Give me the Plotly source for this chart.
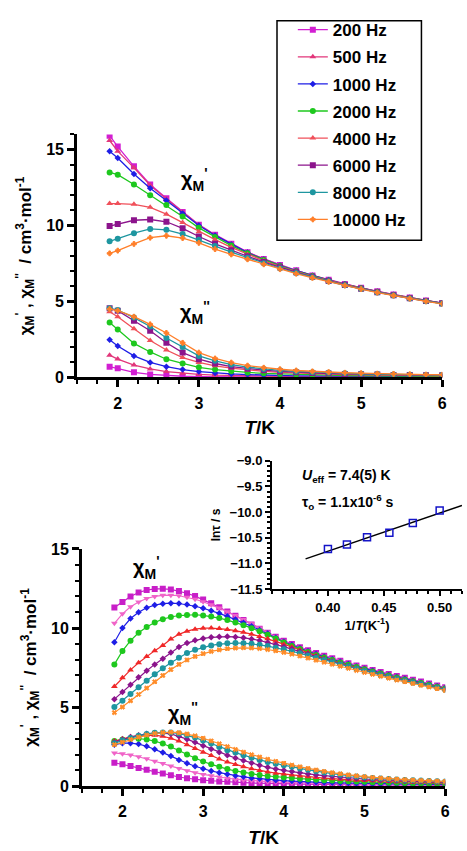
import plotly.graph_objects as go

# ---------------- data ----------------
freq_labels = ["200 Hz", "500 Hz", "1000 Hz", "2000 Hz", "4000 Hz", "6000 Hz", "8000 Hz", "10000 Hz"]

# top panel temperatures
t_top = [1.9, 2.0, 2.2, 2.4, 2.6, 2.8, 3.0, 3.2, 3.4, 3.6, 3.8, 4.0, 4.2, 4.4, 4.6, 4.8, 5.0, 5.2, 5.4, 5.6, 5.8, 6.0]

top_chi1_200 = [15.92, 15.2, 13.9, 12.7, 11.8, 10.9, 10.06, 9.4, 8.8, 8.25, 7.8, 7.4, 7.05, 6.72, 6.43, 6.15, 5.9, 5.67, 5.46, 5.26, 5.07, 4.9]
top_chi1_500 = [15.6, 14.9, 13.8, 12.65, 11.75, 10.88, 10.04, 9.38, 8.78, 8.24, 7.79, 7.39, 7.04, 6.71, 6.42, 6.14, 5.89, 5.66, 5.45, 5.25, 5.06, 4.89]
top_chi1_1000 = [14.9, 14.45, 13.4, 12.45, 11.65, 10.8, 10.0, 9.35, 8.76, 8.22, 7.77, 7.37, 7.03, 6.7, 6.41, 6.13, 5.88, 5.65, 5.44, 5.24, 5.05, 4.89]
top_chi1_2000 = [13.5, 13.35, 12.7, 12.0, 11.35, 10.6, 9.85, 9.25, 8.68, 8.17, 7.73, 7.34, 7.0, 6.68, 6.39, 6.12, 5.87, 5.64, 5.43, 5.23, 5.04, 4.88]
top_chi1_4000 = [11.45, 11.45, 11.4, 11.2, 10.75, 10.2, 9.6, 9.07, 8.57, 8.1, 7.68, 7.3, 6.97, 6.66, 6.37, 6.1, 5.86, 5.63, 5.42, 5.22, 5.04, 4.88]
top_chi1_6000 = [9.97, 10.1, 10.35, 10.4, 10.25, 9.82, 9.28, 8.8, 8.38, 7.98, 7.6, 7.25, 6.93, 6.63, 6.35, 6.08, 5.84, 5.61, 5.41, 5.21, 5.03, 4.87]
top_chi1_8000 = [8.96, 9.13, 9.5, 9.78, 9.72, 9.44, 9.07, 8.65, 8.25, 7.88, 7.52, 7.19, 6.88, 6.6, 6.33, 6.07, 5.83, 5.6, 5.4, 5.2, 5.02, 4.86]
top_chi1_10000 = [8.17, 8.35, 8.79, 9.2, 9.33, 9.18, 8.86, 8.45, 8.1, 7.78, 7.45, 7.13, 6.83, 6.56, 6.3, 6.05, 5.82, 5.59, 5.39, 5.19, 5.01, 4.85]

top_chi2_200 = [0.71, 0.6, 0.34, 0.2, 0.12, 0.08, 0.06, 0.05, 0.04, 0.04, 0.03, 0.03, 0.03, 0.03, 0.02, 0.02, 0.02, 0.02, 0.02, 0.02, 0.02, 0.02]
top_chi2_500 = [1.47, 1.21, 0.82, 0.56, 0.39, 0.28, 0.2, 0.15, 0.12, 0.1, 0.08, 0.07, 0.06, 0.05, 0.05, 0.04, 0.04, 0.04, 0.03, 0.03, 0.03, 0.03]
top_chi2_1000 = [2.48, 2.07, 1.42, 0.99, 0.71, 0.52, 0.39, 0.3, 0.23, 0.19, 0.15, 0.13, 0.11, 0.1, 0.09, 0.08, 0.07, 0.06, 0.06, 0.05, 0.05, 0.05]
top_chi2_2000 = [3.62, 3.15, 2.24, 1.68, 1.2, 0.92, 0.67, 0.52, 0.41, 0.33, 0.27, 0.23, 0.2, 0.17, 0.15, 0.13, 0.12, 0.11, 0.1, 0.09, 0.08, 0.08]
top_chi2_4000 = [4.33, 4.0, 3.21, 2.43, 1.81, 1.31, 0.99, 0.77, 0.61, 0.49, 0.4, 0.34, 0.29, 0.25, 0.22, 0.19, 0.17, 0.15, 0.14, 0.13, 0.12, 0.11]
top_chi2_6000 = [4.55, 4.4, 3.73, 3.08, 2.28, 1.64, 1.2, 0.92, 0.72, 0.58, 0.48, 0.4, 0.34, 0.3, 0.26, 0.23, 0.21, 0.19, 0.17, 0.16, 0.15, 0.14]
top_chi2_8000 = [4.55, 4.44, 3.94, 3.36, 2.6, 2.0, 1.42, 1.1, 0.85, 0.68, 0.56, 0.47, 0.4, 0.35, 0.31, 0.27, 0.24, 0.22, 0.2, 0.18, 0.17, 0.16]
top_chi2_10000 = [4.5, 4.4, 4.0, 3.5, 2.93, 2.28, 1.64, 1.25, 0.98, 0.78, 0.64, 0.54, 0.46, 0.4, 0.35, 0.31, 0.28, 0.25, 0.23, 0.21, 0.19, 0.18]

# bottom panel temperatures
t_bot = [1.9, 2.0, 2.1, 2.2, 2.3, 2.4, 2.5, 2.6, 2.7, 2.8, 2.9, 3.0, 3.1, 3.2, 3.3, 3.4, 3.5, 3.6, 3.7, 3.8, 3.9,
         4.0, 4.1, 4.2, 4.3, 4.4, 4.5, 4.6, 4.7, 4.8, 4.9, 5.0, 5.1, 5.2, 5.3, 5.4, 5.5, 5.6, 5.7, 5.8, 5.9, 6.0]

bot_chi1_200 = [11.3, 11.65, 12.0, 12.25, 12.4, 12.47, 12.48, 12.44, 12.34, 12.2, 12.02, 11.8, 11.56, 11.31, 11.05, 10.78, 10.51, 10.23, 9.96, 9.7, 9.45,
                9.2, 8.99, 8.79, 8.6, 8.42, 8.25, 8.09, 7.93, 7.78, 7.63, 7.49, 7.35, 7.22, 7.09, 6.97, 6.85, 6.73, 6.61, 6.49, 6.37, 6.25]
bot_chi1_500 = [10.3, 10.9, 11.35, 11.65, 11.87, 12.0, 12.07, 12.08, 12.04, 11.95, 11.82, 11.66, 11.47, 11.26, 11.03, 10.79, 10.54, 10.27, 10.0, 9.73, 9.45,
                9.17, 8.96, 8.76, 8.57, 8.39, 8.22, 8.06, 7.9, 7.75, 7.6, 7.46, 7.32, 7.19, 7.06, 6.94, 6.82, 6.7, 6.58, 6.46, 6.34, 6.22]
bot_chi1_1000 = [9.1, 10.0, 10.6, 11.0, 11.28, 11.45, 11.54, 11.57, 11.55, 11.48, 11.38, 11.25, 11.1, 10.93, 10.74, 10.54, 10.33, 10.11, 9.88, 9.65, 9.39,
                 9.13, 8.92, 8.72, 8.53, 8.35, 8.18, 8.02, 7.87, 7.72, 7.57, 7.43, 7.29, 7.16, 7.03, 6.91, 6.79, 6.67, 6.55, 6.44, 6.32, 6.2]
bot_chi1_2000 = [7.7, 8.55, 9.2, 9.7, 10.07, 10.35, 10.56, 10.7, 10.79, 10.83, 10.84, 10.8, 10.73, 10.63, 10.5, 10.35, 10.18, 9.99, 9.79, 9.58, 9.33,
                 9.08, 8.87, 8.67, 8.48, 8.3, 8.13, 7.97, 7.82, 7.67, 7.53, 7.39, 7.25, 7.12, 6.99, 6.87, 6.75, 6.63, 6.52, 6.41, 6.29, 6.18]
bot_chi1_4000 = [6.3, 6.85, 7.35, 7.8, 8.2, 8.57, 8.9, 9.3, 9.6, 9.8, 9.93, 9.99, 10.0, 9.97, 9.91, 9.83, 9.73, 9.61, 9.47, 9.32, 9.16,
                 8.98, 8.8, 8.61, 8.43, 8.25, 8.08, 7.92, 7.77, 7.62, 7.48, 7.34, 7.21, 7.08, 6.95, 6.83, 6.71, 6.6, 6.49, 6.38, 6.27, 6.15]
bot_chi1_6000 = [5.5, 5.95, 6.42, 6.88, 7.3, 7.7, 8.05, 8.45, 8.8, 9.05, 9.22, 9.34, 9.41, 9.45, 9.46, 9.44, 9.39, 9.31, 9.21, 9.09, 8.96,
                 8.82, 8.67, 8.51, 8.35, 8.19, 8.03, 7.88, 7.73, 7.58, 7.44, 7.3, 7.17, 7.04, 6.92, 6.8, 6.68, 6.57, 6.46, 6.35, 6.24, 6.12]
bot_chi1_8000 = [5.0, 5.4, 5.82, 6.25, 6.67, 7.07, 7.45, 7.8, 8.12, 8.42, 8.62, 8.78, 8.9, 8.98, 9.03, 9.05, 9.04, 9.0, 8.94, 8.86, 8.76,
                 8.65, 8.53, 8.4, 8.26, 8.12, 7.98, 7.84, 7.7, 7.56, 7.42, 7.28, 7.15, 7.02, 6.9, 6.78, 6.66, 6.55, 6.44, 6.33, 6.22, 6.1]
bot_chi1_10000 = [4.65, 5.0, 5.4, 5.8, 6.2, 6.6, 7.0, 7.37, 7.7, 7.98, 8.2, 8.38, 8.52, 8.62, 8.69, 8.73, 8.75, 8.74, 8.7, 8.64, 8.56,
                  8.46, 8.35, 8.23, 8.1, 7.97, 7.84, 7.71, 7.58, 7.45, 7.32, 7.19, 7.07, 6.95, 6.83, 6.71, 6.6, 6.49, 6.38, 6.27, 6.16, 6.05]

bot_chi2_200 = [1.48, 1.38, 1.27, 1.15, 1.03, 0.91, 0.8, 0.69, 0.58, 0.5, 0.43, 0.38, 0.34, 0.3, 0.27, 0.24, 0.22, 0.2, 0.18, 0.17, 0.16,
                0.15, 0.14, 0.13, 0.12, 0.12, 0.11, 0.1, 0.1, 0.09, 0.09, 0.08, 0.08, 0.08, 0.07, 0.07, 0.07, 0.06, 0.06, 0.06, 0.06, 0.05]
bot_chi2_500 = [2.1, 2.05, 1.97, 1.86, 1.73, 1.58, 1.43, 1.27, 1.12, 0.97, 0.85, 0.74, 0.65, 0.57, 0.5, 0.44, 0.39, 0.35, 0.31, 0.28, 0.26,
                0.24, 0.22, 0.2, 0.18, 0.17, 0.16, 0.15, 0.14, 0.13, 0.12, 0.12, 0.11, 0.1, 0.1, 0.09, 0.09, 0.08, 0.08, 0.08, 0.07, 0.07]
bot_chi2_1000 = [2.62, 2.72, 2.72, 2.66, 2.52, 2.34, 2.12, 1.9, 1.66, 1.45, 1.26, 1.1, 0.96, 0.85, 0.75, 0.66, 0.59, 0.52, 0.47, 0.42, 0.38,
                 0.35, 0.32, 0.29, 0.27, 0.25, 0.23, 0.21, 0.2, 0.19, 0.17, 0.16, 0.15, 0.14, 0.13, 0.13, 0.12, 0.11, 0.11, 0.1, 0.1, 0.09]
bot_chi2_2000 = [2.85, 2.95, 3.0, 3.0, 2.95, 2.85, 2.7, 2.5, 2.25, 2.0, 1.77, 1.56, 1.38, 1.22, 1.08, 0.96, 0.86, 0.77, 0.7, 0.64, 0.59,
                 0.55, 0.51, 0.47, 0.44, 0.41, 0.38, 0.35, 0.33, 0.31, 0.29, 0.27, 0.25, 0.24, 0.22, 0.21, 0.2, 0.19, 0.18, 0.17, 0.16, 0.15]
bot_chi2_4000 = [2.85, 3.0, 3.12, 3.2, 3.23, 3.22, 3.15, 3.03, 2.85, 2.62, 2.38, 2.15, 1.93, 1.72, 1.53, 1.37, 1.23, 1.1, 0.99, 0.9, 0.82,
                 0.76, 0.7, 0.64, 0.59, 0.55, 0.51, 0.47, 0.44, 0.41, 0.38, 0.36, 0.34, 0.32, 0.3, 0.28, 0.27, 0.25, 0.24, 0.23, 0.22, 0.21]
bot_chi2_6000 = [2.78, 2.95, 3.1, 3.22, 3.31, 3.35, 3.35, 3.3, 3.15, 2.97, 2.77, 2.56, 2.35, 2.15, 1.96, 1.78, 1.62, 1.46, 1.32, 1.19, 1.08,
                 1.0, 0.92, 0.84, 0.77, 0.71, 0.66, 0.61, 0.56, 0.52, 0.48, 0.45, 0.42, 0.39, 0.37, 0.35, 0.33, 0.31, 0.29, 0.28, 0.26, 0.25]
bot_chi2_8000 = [2.72, 2.88, 3.04, 3.18, 3.29, 3.37, 3.4, 3.39, 3.33, 3.22, 3.07, 2.89, 2.69, 2.48, 2.27, 2.12, 1.96, 1.8, 1.66, 1.53, 1.42,
                 1.32, 1.22, 1.12, 1.03, 0.94, 0.86, 0.79, 0.72, 0.66, 0.61, 0.56, 0.52, 0.48, 0.45, 0.42, 0.39, 0.37, 0.35, 0.33, 0.31, 0.29]
bot_chi2_10000 = [2.62, 2.78, 2.95, 3.1, 3.23, 3.33, 3.39, 3.41, 3.38, 3.3, 3.18, 3.03, 2.86, 2.68, 2.5, 2.32, 2.15, 1.99, 1.84, 1.7, 1.57,
                  1.45, 1.33, 1.22, 1.12, 1.02, 0.93, 0.85, 0.78, 0.71, 0.65, 0.6, 0.55, 0.51, 0.47, 0.44, 0.41, 0.38, 0.36, 0.34, 0.32, 0.3]

# inset: Arrhenius plot
inv_t = [0.400, 0.417, 0.435, 0.455, 0.476, 0.500]
ln_tau = [-10.72, -10.63, -10.49, -10.40, -10.21, -9.97]
fit_x = [0.38, 0.52]
fit_y = [-10.91, -9.87]

# ---------------- styles ----------------
top_colors = ["#D21ED2", "#E2367A", "#1E1EE6", "#1EC81E", "#F0505A", "#8C148C", "#1E96A0", "#FF7F2A"]
top_symbols = ["square", "triangle-up", "diamond", "circle", "triangle-up", "square", "circle", "cross"]
top_sizes = [6, 6, 5, 6, 6, 6, 6, 4]
bot_colors = ["#C81EC8", "#F064C8", "#1E1EE6", "#1EC81E", "#F02828", "#8C148C", "#1E96A0", "#FF8C28"]
bot_symbols = ["square", "triangle-down", "diamond", "circle", "triangle-up", "diamond", "circle", "x"]
bot_sizes = [6, 6, 5, 6, 6, 5, 6, 4]

top_chi1 = [top_chi1_200, top_chi1_500, top_chi1_1000, top_chi1_2000, top_chi1_4000, top_chi1_6000, top_chi1_8000, top_chi1_10000]
top_chi2 = [top_chi2_200, top_chi2_500, top_chi2_1000, top_chi2_2000, top_chi2_4000, top_chi2_6000, top_chi2_8000, top_chi2_10000]
bot_chi1 = [bot_chi1_200, bot_chi1_500, bot_chi1_1000, bot_chi1_2000, bot_chi1_4000, bot_chi1_6000, bot_chi1_8000, bot_chi1_10000]
bot_chi2 = [bot_chi2_200, bot_chi2_500, bot_chi2_1000, bot_chi2_2000, bot_chi2_4000, bot_chi2_6000, bot_chi2_8000, bot_chi2_10000]

FONT = "Liberation Sans, Arial, sans-serif"
fig = go.Figure()

for i, name in enumerate(freq_labels):
    for k, series in enumerate((top_chi1[i], top_chi2[i])):
        fig.add_trace(go.Scatter(
            x=t_top, y=series, xaxis="x", yaxis="y", mode="lines+markers", name=name,
            legendgroup=name, showlegend=(k == 0),
            line=dict(color=top_colors[i], width=1.3),
            marker=dict(symbol=top_symbols[i], size=top_sizes[i], color=top_colors[i],
                        line=dict(width=1 if top_symbols[i] == "cross" else 0, color=top_colors[i]))))

for i, name in enumerate(freq_labels):
    for series in (bot_chi1[i], bot_chi2[i]):
        fig.add_trace(go.Scatter(
            x=t_bot, y=series, xaxis="x2", yaxis="y2", mode="lines+markers", name=name,
            showlegend=False,
            line=dict(color=bot_colors[i], width=1.2),
            marker=dict(symbol=bot_symbols[i], size=bot_sizes[i], color=bot_colors[i],
                        line=dict(width=1 if bot_symbols[i] == "x" else 0, color=bot_colors[i]))))

fig.add_trace(go.Scatter(x=fit_x, y=fit_y, xaxis="x3", yaxis="y3", mode="lines",
                         line=dict(color="black", width=1.5), showlegend=False))
fig.add_trace(go.Scatter(x=inv_t, y=ln_tau, xaxis="x3", yaxis="y3", mode="markers",
                         marker=dict(symbol="square-open", size=7, color="#1414C8", line=dict(width=1.5)),
                         showlegend=False))

W, H = 467, 851
def px_x(a, b):
    return [a / W, b / W]
def px_y(top, bottom):
    return [1 - bottom / H, 1 - top / H]

main_axis = dict(showline=True, linecolor="black", linewidth=3, ticks="outside", ticklen=7,
                 tickwidth=3, tickcolor="black", showgrid=False, zeroline=False,
                 tickfont=dict(family=FONT, size=16, color="black", weight=700))
minor_main_x = dict(dtick=0.25, ticklen=4, tickwidth=2, tickcolor="black", ticks="outside")
minor_main_y = dict(dtick=1, ticklen=4, tickwidth=2, tickcolor="black", ticks="outside")
title_font = dict(family=FONT, size=17, color="black", weight=700)
ytitle = "χ<sub>M</sub><sup>'</sup> , χ<sub>M</sub><sup>''</sup>  / cm<sup>3</sup>·mol<sup>-1</sup>"
xt_font = dict(family=FONT, size=19, color="black", weight=700)

fig.update_layout(
    width=W, height=H, margin=dict(l=0, r=0, t=0, b=0),
    paper_bgcolor="white", plot_bgcolor="white",
    font=dict(family=FONT, color="black"),
    xaxis=dict(main_axis, domain=px_x(78, 447), range=[1.5, 6.0], dtick=1, tick0=0,
               minor=minor_main_x, anchor="y", ticklabelstandoff=2,
               title=dict(text="<i>T</i>/K", font=xt_font, standoff=11)),
    yaxis=dict(main_axis, domain=px_y(129, 377), range=[0, 16], dtick=5, tick0=0,
               minor=minor_main_y, anchor="x",
               title=dict(text=ytitle, font=title_font, standoff=11)),
    xaxis2=dict(main_axis, domain=px_x(83, 450), range=[1.5, 6.0], dtick=1, tick0=0,
                minor=minor_main_x, anchor="y2", ticklabelstandoff=2,
                title=dict(text="<i>T</i>/K", font=xt_font, standoff=12)),
    yaxis2=dict(main_axis, domain=px_y(552, 794), range=[0, 15], dtick=5, tick0=0,
                minor=minor_main_y, anchor="x2",
                title=dict(text=ytitle, font=title_font, standoff=11)),
    xaxis3=dict(showline=True, linecolor="black", linewidth=2, ticks="outside", ticklen=5, tickwidth=2,
                tickcolor="black", showgrid=False, zeroline=False, domain=px_x(275, 467),
                range=[0.35, 0.52], tickvals=[0.40, 0.45, 0.50], ticktext=["0.40", "0.45", "0.50"],
                minor=dict(dtick=0.01, tick0=0, ticklen=3, tickwidth=1.5, tickcolor="black", ticks="outside"),
                anchor="y3",
                tickfont=dict(family=FONT, size=13, color="black", weight=700),
                title=dict(text="1/<i>T</i>(K<sup>-1</sup>)", font=dict(family=FONT, size=13, color="black", weight=700), standoff=7)),
    yaxis3=dict(showline=True, linecolor="black", linewidth=2, ticks="outside", ticklen=5, tickwidth=2,
                tickcolor="black", showgrid=False, zeroline=False, domain=px_y(462, 593),
                range=[-11.5, -9.0], dtick=0.5, tick0=0, tickformat=".1f",
                minor=dict(dtick=0.1, tick0=0, ticklen=3, tickwidth=1.5, tickcolor="black", ticks="outside"),
                anchor="x3",
                tickfont=dict(family=FONT, size=13, color="black", weight=700),
                title=dict(text="lnτ / s", font=dict(family=FONT, size=12, color="black", weight=700), standoff=6)),
    legend=dict(x=296 / W, y=0.995, xanchor="left", yanchor="top",
                borderwidth=0, bgcolor="rgba(0,0,0,0)",
                traceorder="grouped", tracegroupgap=2,
                font=dict(family=FONT, size=17, color="black", weight=700)),
    showlegend=True,
)

# legend frame
fig.add_shape(type="rect", xref="paper", yref="paper",
              x0=280 / W, x1=426 / W, y0=1 - 237 / H, y1=1 - 13 / H,
              line=dict(color="black", width=1.5), fillcolor="white", layer="below")

ann_font = dict(family=FONT, size=20, color="black", weight=700)
anns = [
    dict(x=2.95, y=13.0, xref="x", yref="y", text="χ<sub>M</sub><sup>'</sup>"),
    dict(x=2.95, y=4.3, xref="x", yref="y", text="χ<sub>M</sub><sup>''</sup>"),
    dict(x=2.3, y=13.8, xref="x2", yref="y2", text="χ<sub>M</sub><sup>'</sup>"),
    dict(x=2.75, y=4.6, xref="x2", yref="y2", text="χ<sub>M</sub><sup>''</sup>"),
]
for a in anns:
    fig.add_annotation(**a, showarrow=False, font=ann_font)

ins_font = dict(family=FONT, size=14, color="black", weight=700)
fig.add_annotation(x=0.375, y=-9.3, xref="x3", yref="y3", xanchor="left", showarrow=False,
                   text="<i>U</i><sub>eff</sub> = 7.4(5) K", font=ins_font)
fig.add_annotation(x=0.375, y=-9.8, xref="x3", yref="y3", xanchor="left", showarrow=False,
                   text="τ<sub>o</sub> = 1.1x10<sup>-6</sup> s", font=ins_font)

fig.write_html("out.html", config={"displayModeBar": False},
               post_script="document.body.style.margin='0';document.body.style.padding='0';document.body.style.overflow='hidden';")
